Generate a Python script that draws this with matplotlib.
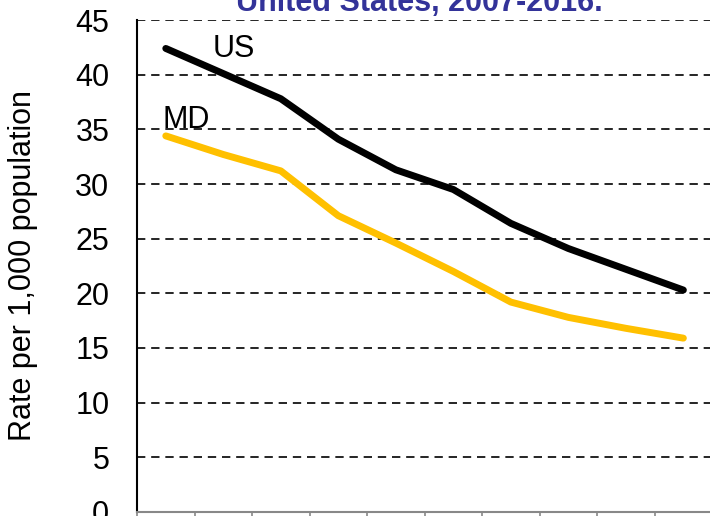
import numpy as np
import matplotlib.pyplot as plt

plt.rcParams['font.family'] = ['Liberation Sans', 'DejaVu Sans']

years = ['2007', '2008', '2009', '2010', '2011', '2012', '2013', '2014', '2015', '2016']
us_rate = [42.4, 40.1, 37.8, 34.1, 31.3, 29.5, 26.4, 24.1, 22.2, 20.3]
md_rate = [34.4, 32.7, 31.2, 27.1, 24.6, 22.0, 19.2, 17.8, 16.8, 15.9]
yticks = [0, 5, 10, 15, 20, 25, 30, 35, 40, 45]

fig = plt.figure(figsize=(7.1, 5.16), dpi=100)
ax = fig.add_axes([0.193, 0.0078, 0.81, 0.9534])

x = np.arange(len(years))
ax.plot(x, md_rate, color='#FFC000', lw=5, solid_capstyle='round', zorder=3)
ax.plot(x, us_rate, color='black', lw=5, solid_capstyle='round', zorder=4)

ax.text(0.82, us_rate[0] - 0.8, 'US', fontsize=22, ha='left', va='baseline')
ax.text(-0.05, md_rate[0] + 0.7, 'MD', fontsize=22, ha='left', va='baseline')

ax.set_xlim(-0.5, len(years) - 0.5)
ax.set_ylim(0, 45)
ax.set_yticks(yticks)
ax.tick_params(axis='y', length=0, pad=20, labelsize=22)
ax.set_xticks(np.arange(-0.5, len(years)), labels=[])
ax.tick_params(axis='x', direction='out', length=6, color='#888888', width=1.2)

for v in yticks[1:]:
    ax.axhline(v, color='black', lw=1.2, ls=(0, (5, 3.5)), zorder=1)

ax.spines['top'].set_visible(False)
ax.spines['right'].set_visible(False)
ax.spines['left'].set_linewidth(1.5)
ax.spines['bottom'].set_color('#888888')
ax.spines['bottom'].set_linewidth(1.5)

ax.set_ylabel('Rate per 1,000 population', fontsize=22, labelpad=27)

fig.text(0.591, 0.979, 'United States, 2007-2016.', fontsize=22, fontweight='bold',
         color='#333399', ha='center', va='baseline')

fig.savefig('out.png', dpi=100)
